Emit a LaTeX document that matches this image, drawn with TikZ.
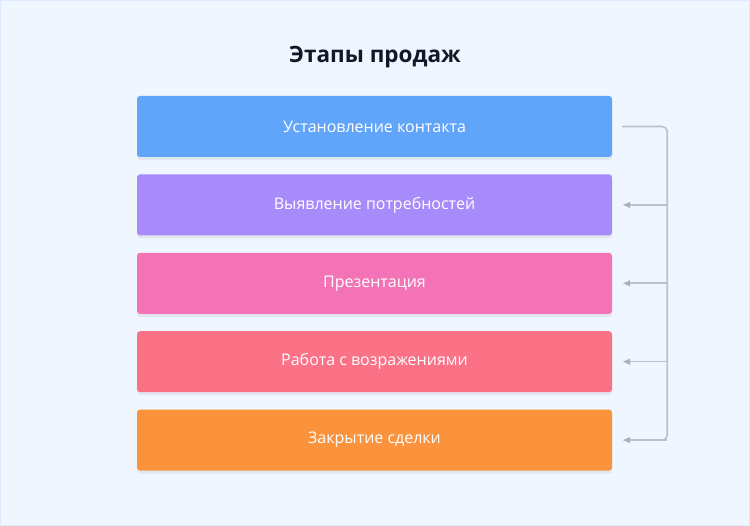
\documentclass[tikz,border=0pt]{standalone}
\usepackage{fontspec}
\setmainfont{Open Sans}
\usetikzlibrary{positioning,shadows,arrows.meta}
\definecolor{bgfill}{HTML}{EFF6FF}
\definecolor{bgline}{HTML}{DBEAFE}
\definecolor{titlecol}{HTML}{111827}
\definecolor{stepblue}{HTML}{60A5FA}
\definecolor{steppurple}{HTML}{A78BFA}
\definecolor{steppink}{HTML}{F472B6}
\definecolor{stepred}{HTML}{FB7185}
\definecolor{steporange}{HTML}{FB923C}
\definecolor{linkgray}{HTML}{BCC2CC}
\definecolor{tipgray}{HTML}{A9B0BC}

\begin{document}
\begin{tikzpicture}[x=1pt, y=-1pt, node distance=17pt, auto]
        % Define block styles
        \tikzstyle{stage} = [rectangle, rounded corners=3pt, text=white, minimum width=475pt, minimum height=61pt, inner sep=0pt, font=\fontsize{16}{19}\selectfont, drop shadow={opacity=0.12, shadow xshift=0pt, shadow yshift=-3pt}]
        \tikzstyle{back} = [draw=linkgray, line width=1.6pt, -{Latex[length=8pt, width=7pt, color=tipgray]}]

        % Background
        \draw[bgline, fill=bgfill, line width=1pt] (0.5,0.5) rectangle (749.5,525.5);
        \useasboundingbox (0,0) rectangle (750,526);

        % Title
        \node[font=\fontsize{22.5}{27}\selectfont\bfseries, text=titlecol] (title) at (375,57) {Этапы продаж};

        % Nodes
        \node [stage, fill=stepblue] (contact) at (374.5,126.5) {Установление контакта};
        \node [stage, fill=steppurple, below=of contact] (needs) {Выявление потребностей};
        \node [stage, fill=steppink, below=of needs] (present) {Презентация};
        \node [stage, fill=stepred, below=of present] (objections) {Работа с возражениями};
        \node [stage, fill=steporange, below=of objections] (closing) {Закрытие сделки};

        % Return line
        \coordinate (bustop) at ([xshift=55pt]contact.east);
        \coordinate (busbot) at ([xshift=55pt]closing.east);
        \draw[draw=linkgray, line width=1.6pt, rounded corners=5pt] ([xshift=10pt]contact.east) -- (bustop) -- (busbot) -- ++(-3pt,0);
        \foreach \s in {needs, present, objections, closing}
            \path [back] ([xshift=55pt]\s.east) -- ([xshift=10pt]\s.east);

    \end{tikzpicture}
\end{document}
